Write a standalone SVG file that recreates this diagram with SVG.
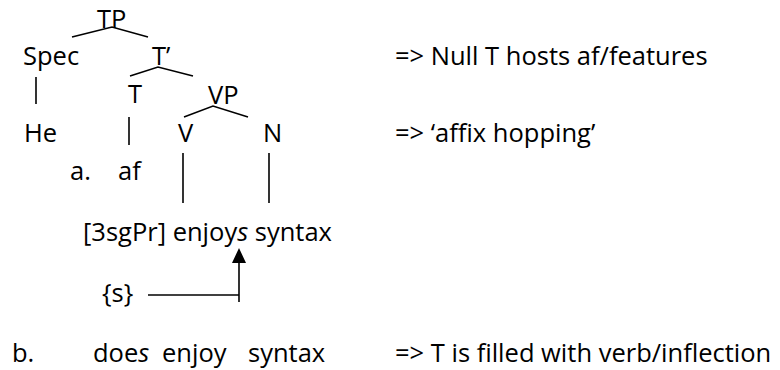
<svg xmlns="http://www.w3.org/2000/svg" width="780" height="370" viewBox="0 0 780 370">
<style>
text{font-family:"Open Sans","Liberation Sans",sans-serif;font-size:25.5px;fill:#000}
.it{font-style:italic}
.ln{stroke:#000;stroke-width:1.6;fill:none}
</style>
<rect width="780" height="370" fill="#fff"/>
<g id="connectors">
<polyline class="ln" points="72,37 112,27 148,37"/>
<polyline class="ln" points="130,76 158,67 193,76"/>
<polyline class="ln" points="184,117 213,106 248,117"/>
<line class="ln" x1="36" y1="77" x2="36" y2="104"/>
<line class="ln" x1="129" y1="117" x2="129" y2="145"/>
<line class="ln" x1="183" y1="153" x2="183" y2="203"/>
<line class="ln" x1="269" y1="153" x2="269" y2="203"/>
<polyline class="ln" points="148,295 239,295"/>
<line class="ln" x1="239" y1="302" x2="239" y2="262"/>
<polygon points="239,248 232,263 246,263" fill="#000"/>
</g>
<g id="TP"><text x="97" y="28">TP</text></g>
<g id="Spec"><text x="23" y="65">Spec</text></g>
<g id="Tbar"><text x="152" y="65">T’</text></g>
<g id="T"><text x="128" y="103">T</text></g>
<g id="VP"><text x="208" y="104">VP</text></g>
<g id="He"><text x="24" y="142">He</text></g>
<g id="V"><text x="178" y="142">V</text></g>
<g id="N"><text x="263" y="142">N</text></g>
<g id="a-af"><text x="70" y="180">a.</text><text x="118" y="180">af</text></g>
<g id="sentence-a"><text x="83" y="241">[3sgPr] enjoy<tspan class="it">s</tspan> syntax</text></g>
<g id="s-affix"><text x="102" y="302">{s}</text></g>
<g id="sentence-b"><text x="12" y="362">b.</text><text x="93" y="362">doe<tspan class="it">s</tspan></text><text x="162" y="362">enjoy</text><text x="248" y="362">syntax</text></g>
<g id="notes">
<text x="395" y="65">=&gt; Null T hosts af/features</text>
<text x="395" y="142">=&gt; ‘affix hopping’</text>
<text x="395" y="362">=&gt; T is filled with verb/inflection</text>
</g>
</svg>
